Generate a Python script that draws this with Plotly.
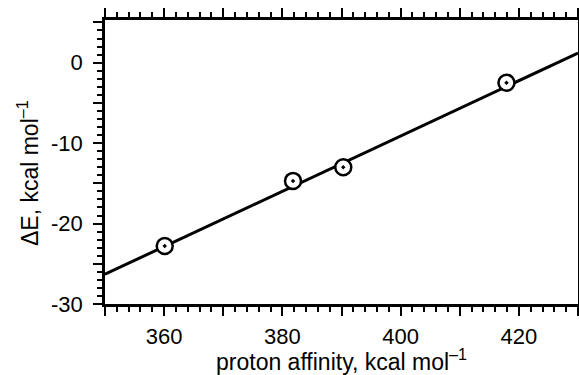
import plotly.graph_objects as go

# data
proton_affinity = [360.1, 381.8, 390.3, 417.9]
delta_e = [-22.8, -14.7, -13.0, -2.5]
fit_x = [350, 430]
fit_y = [-26.3, 1.2]

x_tickvals = [350, 360, 370, 380, 390, 400, 410, 420, 430]
x_ticktext = ["", "360", "", "380", "", "400", "", "420", ""]
y_tickvals = [-30, -25, -20, -15, -10, -5, 0, 5]
y_ticktext = ["-30", "", "-20", "", "-10", "", "0", ""]

FONT = "Liberation Sans, Arial, Helvetica, sans-serif"

fig = go.Figure()
fig.add_trace(go.Scatter(x=fit_x, y=fit_y, mode="lines",
                         line=dict(color="black", width=3), showlegend=False))
fig.add_trace(go.Scatter(x=proton_affinity, y=delta_e, mode="markers",
                         marker=dict(symbol="circle-dot", size=16, color="white",
                                     line=dict(color="black", width=2.5)),
                         showlegend=False))

axis_common = dict(showgrid=False, zeroline=False, showline=True, linecolor="black",
                   linewidth=2.5, ticks="outside", tickcolor="black", tickwidth=2,
                   ticklen=9, tickfont=dict(family=FONT, size=22, color="black"),
                   automargin=False)

fig.update_xaxes(**axis_common, range=[350, 430], tickvals=x_tickvals, ticktext=x_ticktext,
                 mirror="ticks", ticklabelstandoff=2,
                 minor=dict(dtick=2, ticks="outside", ticklen=5, tickwidth=2, tickcolor="black"),
                 title=dict(text="proton affinity, kcal mol<sup>–1</sup>",
                            font=dict(family=FONT, size=23, color="black"), standoff=11))
fig.update_yaxes(**axis_common, range=[-30, 5.3], tickvals=y_tickvals, ticktext=y_ticktext,
                 mirror=True, ticklabelstandoff=6,
                 minor=dict(dtick=1, ticks="outside", ticklen=5, tickwidth=2, tickcolor="black"))

fig.add_annotation(text="ΔE, kcal mol<sup>–1</sup>", textangle=-90,
                   xref="paper", yref="paper", x=0, y=0.461, xanchor="center", yanchor="middle",
                   xshift=-77, showarrow=False,
                   font=dict(family=FONT, size=23, color="black"))

fig.update_layout(width=579, height=375, margin=dict(l=105, r=1, t=20, b=71),
                  plot_bgcolor="white", paper_bgcolor="white")

fig.write_html("out.html")
